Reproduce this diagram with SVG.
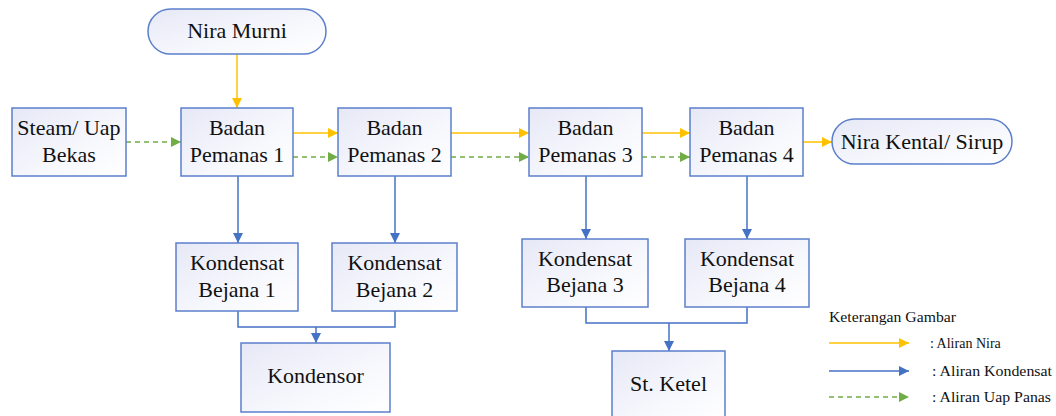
<svg xmlns="http://www.w3.org/2000/svg" width="1056" height="416" viewBox="0 0 1056 416">
<defs>
<linearGradient id="g" x1="0" y1="0" x2="1" y2="1">
<stop offset="0" stop-color="#e6e8f6"/>
<stop offset="0.6" stop-color="#f7f8fd"/>
<stop offset="1" stop-color="#ffffff"/>
</linearGradient>
<marker id="ay" viewBox="0 0 10 10" refX="10" refY="5" markerWidth="10" markerHeight="10" markerUnits="userSpaceOnUse" orient="auto"><path d="M0,0 L10,5 L0,10 z" fill="#ffc000"/></marker>
<marker id="ab" viewBox="0 0 10 10" refX="10" refY="5" markerWidth="10" markerHeight="10" markerUnits="userSpaceOnUse" orient="auto"><path d="M0,0 L10,5 L0,10 z" fill="#4472c4"/></marker>
<marker id="ag" viewBox="0 0 10 10" refX="10" refY="5" markerWidth="10" markerHeight="10" markerUnits="userSpaceOnUse" orient="auto"><path d="M0,0 L10,5 L0,10 z" fill="#70ad47"/></marker>
</defs>
<style>
.box{fill:url(#g);stroke:#5b7fcb;stroke-width:1.5}
.t{font-size:22px;fill:#111;text-anchor:middle}
.lg{font-size:14px;fill:#111}
.y{stroke:#ffc000;stroke-width:1.5;fill:none;marker-end:url(#ay)}
.b{stroke:#4472c4;stroke-width:1.5;fill:none}
.ba{stroke:#4472c4;stroke-width:1.5;fill:none;marker-end:url(#ab)}
.gr{stroke:#70ad47;stroke-width:1.5;fill:none;stroke-dasharray:5,4;marker-end:url(#ag)}
</style>
<rect width="1056" height="416" fill="#ffffff"/>
<g id="connectors">
<line class="y" x1="237" y1="54" x2="237" y2="108"/>
<line class="gr" x1="126" y1="142" x2="181" y2="142"/>
<line class="y" x1="293" y1="133" x2="338" y2="133"/>
<line class="gr" x1="293" y1="157" x2="338" y2="157"/>
<line class="y" x1="451" y1="133" x2="529" y2="133"/>
<line class="gr" x1="451" y1="157" x2="529" y2="157"/>
<line class="y" x1="642" y1="133" x2="690" y2="133"/>
<line class="gr" x1="642" y1="157" x2="690" y2="157"/>
<line class="y" x1="803" y1="142" x2="832" y2="142"/>
<line class="ba" x1="238" y1="176" x2="238" y2="243"/>
<line class="ba" x1="395" y1="176" x2="395" y2="243"/>
<line class="ba" x1="586" y1="176" x2="586" y2="239"/>
<line class="ba" x1="747" y1="176" x2="747" y2="239"/>
<polyline class="b" points="238,311 238,327 395,327 395,311"/>
<line class="ba" x1="316" y1="327" x2="316" y2="343"/>
<polyline class="b" points="586,307 586,323 747,323 747,307"/>
<line class="ba" x1="669" y1="323" x2="669" y2="351"/>
</g>
<g font-family="'Liberation Serif', 'Times New Roman', Tinos, 'DejaVu Serif', serif">
<g id="nira-murni"><rect class="box" x="148" y="9" width="178" height="45" rx="22.5"/><text class="t" x="237" y="38">Nira Murni</text></g>
<g id="steam"><rect class="box" x="12" y="108" width="114" height="68"/><text class="t" x="69" y="135">Steam/ Uap</text><text class="t" x="69" y="162">Bekas</text></g>
<g id="bp1"><rect class="box" x="181" y="108" width="112" height="68"/><text class="t" x="237" y="135">Badan</text><text class="t" x="237" y="162">Pemanas 1</text></g>
<g id="bp2"><rect class="box" x="338" y="108" width="113" height="68"/><text class="t" x="394.5" y="135">Badan</text><text class="t" x="394.5" y="162">Pemanas 2</text></g>
<g id="bp3"><rect class="box" x="529" y="108" width="113" height="68"/><text class="t" x="585.5" y="135">Badan</text><text class="t" x="585.5" y="162">Pemanas 3</text></g>
<g id="bp4"><rect class="box" x="690" y="108" width="113" height="68"/><text class="t" x="746.5" y="135">Badan</text><text class="t" x="746.5" y="162">Pemanas 4</text></g>
<g id="nira-kental"><rect class="box" x="832" y="119" width="180" height="45" rx="22.5"/><text class="t" x="922" y="149">Nira Kental/ Sirup</text></g>
<g id="kb1"><rect class="box" x="176" y="243" width="122" height="68"/><text class="t" x="237" y="270">Kondensat</text><text class="t" x="237" y="297">Bejana 1</text></g>
<g id="kb2"><rect class="box" x="332" y="243" width="125" height="68"/><text class="t" x="394.5" y="270">Kondensat</text><text class="t" x="394.5" y="297">Bejana 2</text></g>
<g id="kb3"><rect class="box" x="522" y="239" width="126" height="68"/><text class="t" x="585" y="266">Kondensat</text><text class="t" x="585" y="292">Bejana 3</text></g>
<g id="kb4"><rect class="box" x="685" y="239" width="124" height="68"/><text class="t" x="747" y="266">Kondensat</text><text class="t" x="747" y="292">Bejana 4</text></g>
<g id="kondensor"><rect class="box" x="241" y="343" width="149" height="69"/><text class="t" x="315.5" y="383">Kondensor</text></g>
<g id="st-ketel"><rect class="box" x="612" y="351" width="113" height="70"/><text class="t" x="668.5" y="391">St. Ketel</text></g>
<g id="legend">
<text class="lg" x="829" y="322" textLength="127" lengthAdjust="spacingAndGlyphs">Keterangan Gambar</text>
<line class="y" x1="829" y1="343" x2="909" y2="343"/>
<text class="lg" x="930" y="348">: Aliran Nira</text>
<line class="ba" x1="829" y1="371" x2="909" y2="371"/>
<text class="lg" x="932" y="376" textLength="120" lengthAdjust="spacingAndGlyphs">: Aliran Kondensat</text>
<line class="gr" x1="829" y1="397" x2="909" y2="397"/>
<text class="lg" x="932" y="402" textLength="119" lengthAdjust="spacingAndGlyphs">: Aliran Uap Panas</text>
</g>
</g>
</svg>
